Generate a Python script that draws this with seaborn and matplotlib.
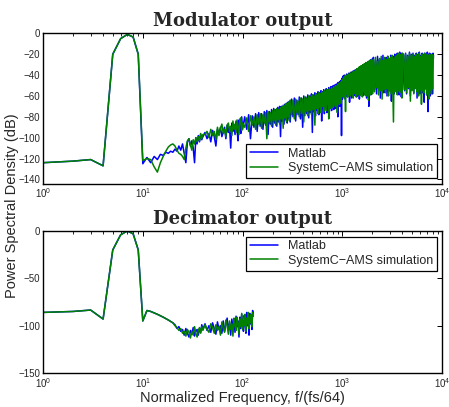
import numpy as np
import matplotlib
matplotlib.use("Agg")
import matplotlib.pyplot as plt
import seaborn as sns
from matplotlib.ticker import LogLocator, NullFormatter

# ---- Modulator output (frequency bins and PSD in dB) ----
f_mod_1 = [1, 2, 3, 4, 5, 6, 7, 8, 9, 10, 11, 12, 13, 14, 15, 16, 17, 18, 19, 20,
           21, 22, 23, 24, 25, 26, 27, 28, 29, 30, 31, 32, 33, 34, 35, 36, 37, 38, 39, 40]
f_mod_2 = [42, 44, 46, 48, 50, 52, 54, 56, 58, 60, 62, 64, 66, 68, 70, 72, 74, 76, 78, 80,
           82, 84, 86, 88, 90, 92, 94, 96, 98, 100]
f_mod_3 = [105, 110, 115, 120, 125, 130, 135, 140, 145, 150, 155, 160, 165, 170, 175, 180,
           185, 190, 195, 200, 205, 210, 215, 220, 225, 230, 235, 240, 245, 250, 255, 260,
           265, 270, 275, 280, 285, 290, 295, 300]
f_mod_4 = [310, 320, 330, 340, 350, 360, 370, 380, 390, 400, 410, 420, 430, 440, 450, 460,
           470, 480, 490, 500, 510, 520, 530, 540, 550, 560, 570, 580, 590, 600, 610, 620,
           630, 640, 650, 660, 670, 680, 690, 700, 710, 720, 730, 740, 750, 760, 770, 780,
           790, 800, 810, 820, 830, 840, 850, 860, 870, 880, 890, 900, 910, 920, 930, 940,
           950, 960, 970, 980, 990, 1000]
f_mod_5 = [1015, 1030, 1045, 1060, 1075, 1090, 1105, 1120, 1135, 1150, 1165, 1180, 1195,
           1210, 1225, 1240, 1255, 1270, 1285, 1300, 1315, 1330, 1345, 1360, 1375, 1390,
           1405, 1420, 1435, 1450, 1465, 1480, 1495, 1510, 1525, 1540, 1555, 1570, 1585,
           1600, 1615, 1630, 1645, 1660, 1675, 1690, 1705, 1720, 1735, 1750, 1765, 1780,
           1795, 1810, 1825, 1840, 1855, 1870, 1885, 1900, 1915, 1930, 1945, 1960, 1975,
           1990, 2005]
f_mod_6 = [2050, 2100, 2150, 2200, 2250, 2300, 2350, 2400, 2450, 2500, 2550, 2600, 2650,
           2700, 2750, 2800, 2850, 2900, 2950, 3000, 3050, 3100, 3150, 3200, 3250, 3300,
           3350, 3400, 3450, 3500, 3550, 3600, 3650, 3700, 3750, 3800, 3850, 3900, 3950, 4000]
f_mod_7 = [4100, 4200, 4300, 4400, 4500, 4600, 4700, 4800, 4900, 5000, 5100, 5200, 5300,
           5400, 5500, 5600, 5700, 5800, 5900, 6000, 6100, 6200, 6300, 6400, 6500, 6600,
           6700, 6800, 6900, 7000, 7100, 7200, 7300, 7400, 7500, 7600, 7700, 7800, 7900,
           8000, 8100, 8192]

mod_matlab_1 = [-124, -122.5, -121, -127, -20, -5, -1, -3.5, -20, -125, -119, -124, -118, -121,
                -116, -117, -114, -115, -113, -114, -111, -113, -108, -112, -106, -115, -124,
                -104, -101, -108, -103, -110, -124, -100, -106, -98, -104, -97, -102, -99]
mod_matlab_2 = [-95, -101, -96, -104, -93, -99, -108, -92, -97, -90, -99, -94, -90, -101, -88,
                -95, -90, -110, -86, -94, -88, -97, -84, -92, -103, -83, -90, -96, -80, -92]
mod_matlab_3 = [-80, -92, -78, -101, -79, -90, -77, -94, -76, -89, -77, -92, -75, -88, -74, -97,
                -75, -87, -73, -90, -72, -86, -73, -89, -71, -85, -70, -99, -70, -84, -69, -87,
                -68, -83, -67, -86, -66, -82, -65, -85]
mod_matlab_4 = [-63, -80, -62, -84, -64, -78, -61, -82, -62, -90, -60, -79, -61, -77, -59, -81,
                -60, -76, -58, -95, -59, -75, -57, -79, -58, -74, -56, -78, -57, -73, -55, -84,
                -56, -72, -54, -77, -55, -71, -53, -76, -54, -70, -52, -75, -53, -69, -51, -74,
                -52, -68, -50, -73, -51, -67, -49, -72, -50, -66, -48, -80, -47, -65, -48, -70,
                -46, -64, -45, -98, -43, -63]
mod_matlab_5 = [-41, -60, -40, -63, -42, -58, -39, -61, -40, -57, -38, -66, -39, -59, -37, -62,
                -38, -56, -36, -60, -37, -58, -35, -57, -36, -61, -34, -55, -35, -59, -33, -63,
                -34, -56, -32, -58, -33, -54, -31, -60, -32, -57, -30, -55, -31, -59, -29, -56,
                -30, -62, -28, -54, -29, -58, -27, -70, -28, -55, -26, -57, -27, -59, -25, -54,
                -26, -56, -25]
mod_matlab_6 = [-23, -54, -26, -58, -22, -53, -25, -62, -24, -55, -21, -57, -27, -52, -23, -60,
                -22, -56, -25, -53, -21, -65, -24, -55, -22, -58, -20, -54, -23, -57, -19, -52,
                -21, -59, -18, -55, -20, -61, -19, -54]
mod_matlab_7 = [-20, -55, -19, -58, -21, -53, -18, -60, -20, -54, -19, -57, -21, -52, -19, -62,
                -20, -55, -18, -58, -21, -54, -19, -57, -20, -66, -19, -53, -21, -59, -18, -75,
                -20, -56, -19, -60, -21, -54, -20, -58, -19, -22]

mod_sysc_1 = [-124, -122.5, -121, -127, -20, -5, -1, -3.5, -20, -122, -120, -121, -128, -133,
              -124, -118, -113, -109, -107, -106, -108, -112, -115, -116, -118, -121, -110,
              -103, -101, -107, -112, -102, -106, -100, -104, -99, -103, -96, -101, -97]
mod_sysc_2 = [-97, -94, -100, -92, -98, -94, -102, -90, -98, -91, -87, -96, -92, -99, -88,
              -86, -94, -89, -98, -84, -92, -87, -95, -83, -90, -97, -82, -81, -93, -86]
mod_sysc_3 = [-90, -81, -94, -79, -88, -80, -92, -78, -87, -77, -91, -78, -86, -76, -101, -75,
              -85, -76, -89, -74, -84, -73, -88, -72, -83, -73, -87, -71, -82, -70, -91, -69,
              -81, -68, -85, -67, -80, -66, -84, -64]
mod_sysc_4 = [-78, -64, -82, -63, -76, -65, -80, -62, -77, -63, -85, -61, -75, -62, -79, -60,
              -74, -61, -78, -59, -73, -60, -88, -58, -72, -59, -77, -57, -71, -58, -76, -56,
              -70, -57, -75, -55, -69, -56, -74, -54, -68, -55, -82, -53, -67, -54, -72, -52,
              -66, -53, -71, -51, -65, -52, -70, -50, -64, -51, -76, -49, -63, -48, -68, -49,
              -62, -47, -67, -46, -61, -44]
mod_sysc_5 = [-60, -42, -62, -41, -75, -40, -58, -41, -61, -39, -57, -40, -60, -38, -56, -39,
              -59, -37, -62, -36, -55, -37, -58, -35, -61, -34, -56, -35, -59, -33, -57, -32,
              -60, -33, -55, -31, -58, -32, -61, -30, -56, -31, -54, -29, -59, -30, -57, -28,
              -60, -29, -55, -28, -58, -27, -64, -28, -56, -26, -59, -27, -54, -26, -57, -25,
              -55, -26, -58]
mod_sysc_6 = [-25, -56, -23, -52, -27, -59, -24, -55, -22, -63, -26, -54, -23, -57, -25, -53,
              -22, -60, -24, -55, -23, -58, -21, -54, -85, -24, -56, -22, -53, -21, -59, -20,
              -55, -19, -57, -21, -54, -20, -62, -19]
mod_sysc_7 = [-21, -54, -20, -57, -22, -52, -19, -65, -21, -55, -20, -58, -22, -53, -20, -56,
              -21, -60, -19, -54, -22, -68, -20, -55, -21, -57, -19, -53, -22, -59, -20, -55,
              -21, -63, -20, -54, -22, -58, -20, -53, -21, -24]

# ---- Decimator output ----
f_dec = [1, 2, 3, 4, 5, 6, 7, 8, 9, 10, 11, 12, 14, 16, 18, 20,
         21, 22, 23, 24, 25, 26, 27, 28, 29, 30, 31, 32, 33, 34, 35, 36, 37, 38, 39, 40,
         42, 44, 46, 48, 50, 52, 54, 56, 58, 60, 62, 64, 66, 68, 70, 72, 74, 76, 78, 80,
         82, 84, 86, 88, 90, 92, 94, 96, 98, 100, 102, 104, 106, 108, 110, 112, 114, 116,
         118, 120, 122, 124, 126, 128]
dec_matlab = [-86, -85, -83.5, -93, -20, -4, 0, -3, -20, -95, -84, -85, -88, -91, -94, -97,
              -99, -103, -101, -106, -104, -110, -103, -108, -112, -105, -109, -102, -111,
              -106, -104, -110, -103, -107, -99, -104,
              -98, -105, -100, -107, -97, -103, -109, -96, -104, -100, -108, -95, -106, -99,
              -92, -105, -97, -110, -93, -102, -96, -107, -90, -101, -95, -112, -91, -103,
              -88, -99, -106, -89, -97, -108, -86, -100, -94, -110, -87, -98, -90, -104, -84, -89]
dec_sysc = [-86, -85, -83.5, -93, -20, -4, 0, -3, -20, -95, -84, -85, -88, -91, -94, -97,
            -100, -102, -105, -103, -108, -106, -111, -104, -107, -113, -106, -110, -101,
            -108, -112, -105, -102, -108, -101, -105,
            -99, -104, -107, -98, -102, -108, -99, -105, -101, -110, -96, -103, -107, -94,
            -100, -109, -95, -104, -98, -111, -92, -100, -105, -91, -97, -109, -93, -101,
            -87, -104, -95, -100, -88, -106, -92, -98, -86, -103, -91, -97, -88, -101, -86, -90]

f_mod = f_mod_1 + f_mod_2 + f_mod_3 + f_mod_4 + f_mod_5 + f_mod_6 + f_mod_7
mod_matlab = (mod_matlab_1 + mod_matlab_2 + mod_matlab_3 + mod_matlab_4 + mod_matlab_5
              + mod_matlab_6 + mod_matlab_7)
mod_sysc = (mod_sysc_1 + mod_sysc_2 + mod_sysc_3 + mod_sysc_4 + mod_sysc_5
            + mod_sysc_6 + mod_sysc_7)

sns.set_style("white")
plt.rcParams['font.family'] = ['Liberation Sans', 'DejaVu Sans']
plt.rcParams['mathtext.fontset'] = 'dejavusans'

BLUE = '#0000ff'
GREEN = '#008000'
LW = 1.1

fig = plt.figure(figsize=(4.49, 4.07), dpi=100)
ax1 = fig.add_axes([0.0958, 0.549, 0.889, 0.369])
ax2 = fig.add_axes([0.0958, 0.0835, 0.889, 0.349])


def style_axis(ax):
    ax.set_xscale('log')
    ax.set_xlim(1, 1e4)
    ax.xaxis.set_major_locator(LogLocator(base=10, numticks=10))
    ax.xaxis.set_minor_locator(LogLocator(base=10, subs=np.arange(2, 10), numticks=10))
    ax.xaxis.set_minor_formatter(NullFormatter())
    ax.tick_params(which='both', direction='in', top=True, right=True,
                   labelsize=7, color='black', pad=2)
    ax.tick_params(which='major', length=3.5, width=0.7)
    ax.tick_params(which='minor', length=2, width=0.6)
    for s in ax.spines.values():
        s.set_color('black')
        s.set_linewidth(1.0)


sns.lineplot(x=f_mod, y=mod_matlab, ax=ax1, color=BLUE, lw=LW, label='Matlab',
             sort=False, estimator=None)
sns.lineplot(x=f_mod, y=mod_sysc, ax=ax1, color=GREEN, lw=LW,
             label='SystemC\u2212AMS simulation', sort=False, estimator=None)
style_axis(ax1)
ax1.set_ylim(-144, 0)
ax1.set_yticks(np.arange(-140, 1, 20))
ax1.set_yticklabels([str(v).replace('-', '\u2212') for v in range(-140, 1, 20)])
ax1.set_title('Modulator output', fontsize=13, fontweight='bold', family='DejaVu Serif', pad=5)
leg1 = ax1.legend(loc='lower right', fontsize=9, frameon=True, fancybox=False,
                  framealpha=1, edgecolor='black', borderpad=0.3, labelspacing=0.2,
                  handlelength=2.2, borderaxespad=0.45)
leg1.get_frame().set_linewidth(0.9)

sns.lineplot(x=f_dec, y=dec_matlab, ax=ax2, color=BLUE, lw=LW, label='Matlab',
             sort=False, estimator=None)
sns.lineplot(x=f_dec, y=dec_sysc, ax=ax2, color=GREEN, lw=LW,
             label='SystemC\u2212AMS simulation', sort=False, estimator=None)
style_axis(ax2)
ax2.set_ylim(-150, 0)
ax2.set_yticks([-150, -100, -50, 0])
ax2.set_yticklabels(['\u2212150', '\u2212100', '\u221250', '0'])
ax2.set_title('Decimator output', fontsize=13, fontweight='bold', family='DejaVu Serif', pad=5)
leg2 = ax2.legend(loc='upper right', fontsize=9, frameon=True, fancybox=False,
                  framealpha=1, edgecolor='black', borderpad=0.3, labelspacing=0.2,
                  handlelength=2.2, borderaxespad=0.45)
leg2.get_frame().set_linewidth(0.9)
ax2.set_xlabel('Normalized Frequency, f/(fs/64)', fontsize=10.5, labelpad=1)

fig.text(0.027, 0.495, 'Power Spectral Density (dB)', rotation=90, fontsize=10.5,
         ha='center', va='center')

fig.savefig('out.png', dpi=100)
